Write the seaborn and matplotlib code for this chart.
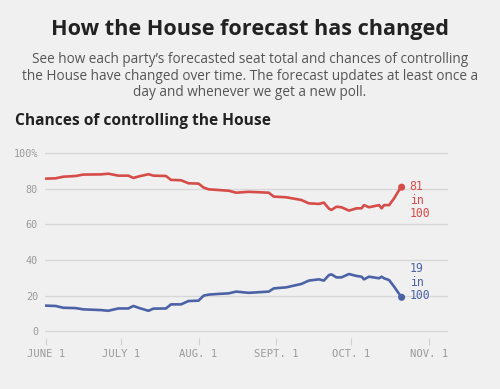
import pandas as pd
import matplotlib
matplotlib.use("Agg")
import matplotlib.pyplot as plt
import seaborn as sns

# Forecast dates (2018) and chances of controlling the House
dates = ["2018-06-01", "2018-06-05", "2018-06-08", "2018-06-13", "2018-06-16",
         "2018-06-23", "2018-06-26", "2018-06-30", "2018-07-04", "2018-07-06",
         "2018-07-08", "2018-07-12", "2018-07-14", "2018-07-19", "2018-07-21",
         "2018-07-25", "2018-07-28", "2018-08-01", "2018-08-03", "2018-08-05",
         "2018-08-09", "2018-08-13", "2018-08-16", "2018-08-21", "2018-08-29",
         "2018-08-31", "2018-09-05", "2018-09-11", "2018-09-14", "2018-09-18",
         "2018-09-20", "2018-09-22", "2018-09-23", "2018-09-25", "2018-09-27",
         "2018-09-30", "2018-10-03", "2018-10-05", "2018-10-06", "2018-10-08",
         "2018-10-12", "2018-10-13", "2018-10-14", "2018-10-16", "2018-10-18",
         "2018-10-20", "2018-10-21"]
red_chance = [85.8, 86.0, 86.9, 87.3, 88.1, 88.2, 88.6, 87.5, 87.5, 86.2,
              87.0, 88.3, 87.5, 87.3, 85.1, 84.9, 83.2, 83.0, 80.8, 79.8,
              79.4, 79.0, 77.9, 78.4, 77.9, 75.7, 75.3, 73.8, 71.9, 71.6,
              72.3, 68.9, 68.2, 70.0, 69.7, 67.8, 69.1, 69.1, 70.9, 69.7,
              70.9, 69.1, 70.9, 70.9, 74.7, 79.4, 81.0]
blue_chance = [14.3, 14.1, 13.1, 12.9, 12.2, 11.8, 11.4, 12.7, 12.7, 14.1,
               13.1, 11.4, 12.6, 12.7, 15.0, 15.0, 16.9, 17.1, 19.9, 20.5,
               20.9, 21.2, 22.2, 21.5, 22.2, 24.0, 24.6, 26.5, 28.4, 29.1,
               28.4, 31.5, 31.9, 30.2, 30.2, 32.1, 31.0, 30.6, 29.1, 30.6,
               29.7, 30.6, 29.7, 28.7, 25.0, 20.9, 19.0]
series_names = ["red", "blue"]
end_labels = ["81\nin\n100", "19\nin\n100"]
x_ticks = ["2018-06-01", "2018-07-01", "2018-08-01", "2018-09-01", "2018-10-01", "2018-11-01"]
x_tick_labels = ["JUNE 1", "JULY 1", "AUG. 1", "SEPT. 1", "OCT. 1", "NOV. 1"]
y_ticks = [0, 20, 40, 60, 80, 100]
y_tick_labels = ["0", "20", "40", "60", "80", "100%"]

BG = "#f0f0f0"
colors = {"red": "#d64c48", "blue": "#4c62a6"}

df = pd.concat([
    pd.DataFrame({"date": pd.to_datetime(dates), "chance": red_chance, "party": "red"}),
    pd.DataFrame({"date": pd.to_datetime(dates), "chance": blue_chance, "party": "blue"}),
])

sns.set_style("white")
plt.rcParams["font.family"] = ["Open Sans", "DejaVu Sans"]

fig = plt.figure(figsize=(5, 3.89), dpi=100, facecolor=BG)
ax = fig.add_axes([0.09, 0.1308, 0.806, 0.4793], facecolor=BG)

sns.lineplot(data=df, x="date", y="chance", hue="party", palette=colors,
             linewidth=1.9, legend=False, ax=ax)

# end dots and labels
last = df.groupby("party").tail(1).set_index("party")
sns.scatterplot(data=last.reset_index(), x="date", y="chance", hue="party",
                palette=colors, s=26, edgecolor="none", legend=False, ax=ax, zorder=5)
for name, label in zip(series_names, end_labels):
    row = last.loc[name]
    if name == "red":
        ax.annotate(label, (row["date"], row["chance"]), xytext=(8, 7),
                    textcoords="offset pixels", va="top", ha="left",
                    family="DejaVu Sans Mono", fontsize=8.3, color=colors[name],
                    linespacing=1.05)
    else:
        ax.annotate(label, (row["date"], row["chance"]), xytext=(8, -5),
                    textcoords="offset pixels", va="bottom", ha="left",
                    family="DejaVu Sans Mono", fontsize=8.3, color=colors[name],
                    linespacing=1.05)

ax.set_xlim(pd.Timestamp("2018-05-31 18:00"), pd.Timestamp("2018-11-08 12:00"))
ax.set_ylim(-4, 101)
ax.set_xticks(pd.to_datetime(x_ticks))
ax.set_xticklabels(x_tick_labels)
ax.set_yticks(y_ticks)
ax.set_yticklabels(y_tick_labels)
ax.set_xlabel("")
ax.set_ylabel("")

ax.yaxis.grid(True, color="#d8d8d8", linewidth=1)
ax.xaxis.grid(False)
for s in ax.spines.values():
    s.set_visible(False)
ax.tick_params(axis="y", length=0, pad=5, labelsize=7.3, labelcolor="#9a9a9a")
ax.tick_params(axis="x", length=5, width=0.8, color="#d0d0d0", pad=3,
               direction="out", bottom=True, labelsize=7.6, labelcolor="#9a9a9a")
for lbl in ax.get_xticklabels() + ax.get_yticklabels():
    lbl.set_family("DejaVu Sans Mono")

fig.text(0.5, 1 - 29.5 / 389, "How the House forecast has changed", ha="center",
         va="center", fontsize=15.6, fontweight="bold", color="#222222")
fig.text(0.5, 1 - 76 / 389,
         "See how each party\u2019s forecasted seat total and chances of controlling\n"
         "the House have changed over time. The forecast updates at least once a\n"
         "day and whenever we get a new poll.",
         ha="center", va="center", fontsize=9.8, color="#555555", linespacing=1.12)
fig.text(15 / 500, 1 - 121 / 389, "Chances of controlling the House", ha="left",
         va="center", fontsize=11.2, fontweight="bold", color="#222222")

fig.savefig("out.png", dpi=100, facecolor=BG)
